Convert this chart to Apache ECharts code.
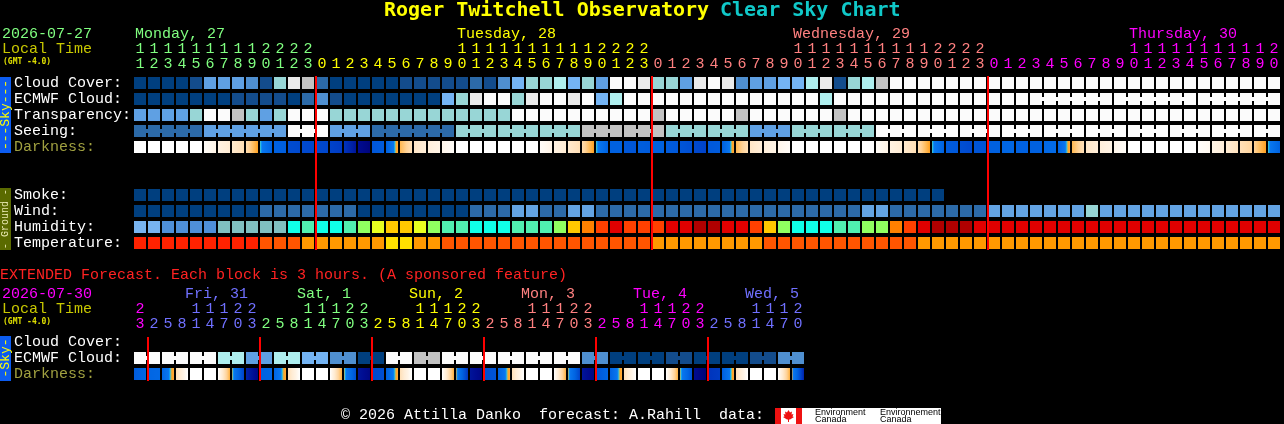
<!DOCTYPE html>
<html>
<head>
<meta charset="utf-8">
<script src="https://cdn.jsdelivr.net/npm/echarts@6.0.0/dist/echarts.min.js"></script>
<style>
html,body{margin:0;padding:0;background:#000;overflow:hidden;}
#chart{width:1284px;height:424px;}
</style>
</head>
<body>
<div id="chart"></div>
<script>
// ======================= DATA =======================
const titleMain = 'Roger Twitchell Observatory';
const titleSub = 'Clear Sky Chart';
const mainDate = '2026-07-27';
const extDate = '2026-07-30';
const localTimeLabel = 'Local Time';
const tzLabel = '(GMT -4.0)';
const extNote = 'EXTENDED Forecast. Each block is 3 hours. (A sponsored feature)';
const footerText = '\u00a9 2026 Attilla Danko  forecast: A.Rahill  data:';

// main forecast, one column per local hour
const hours = [11,12,13,14,15,16,17,18,19,20,21,22,23,
  0,1,2,3,4,5,6,7,8,9,10,11,12,13,14,15,16,17,18,19,20,21,22,23,
  0,1,2,3,4,5,6,7,8,9,10,11,12,13,14,15,16,17,18,19,20,21,22,23,
  0,1,2,3,4,5,6,7,8,9,10,11,12,13,14,15,16,17,18,19,20];
const dayNames = ['Monday, 27','Tuesday, 28','Wednesday, 29','Thursday, 30'];
const mainRows = ['Cloud Cover:','ECMWF Cloud:','Transparency:','Seeing:','Darkness:','','','Smoke:','Wind:','Humidity:','Temperature:'];

// cloud cover, percent
const cloudCover = [0,0,0,0,10,40,40,40,30,10,60,90,80,20,
  0,0,0,0,0,10,10,10,10,10,20,10,30,50,
  60,60,70,50,60,40,100,100,90,
  60,60,40,90,100,90,30,40,40,50,50,70,90,10,60,70,80,
  100,100,100,100,100,100,100,100,100,100,100,100,100,100,100,100,100,100,100,100,100,100,100,100,100,100,100,100];
const ecmwfCloud = [0,0,0,0,0,0,0,10,10,10,10,0,20,30,
  10,0,0,0,0,0,0,0,50,60,90,100,100,60,
  90,100,100,90,100,50,70,100,100,
  100,100,100,100,100,100,100,100,100,100,100,100,70,100,100,100,100,
  100,100,100,100,100,100,100,100,100,100,100,100,100,100,100,100,100,100,100,100,100,100,100,100,100,100,100,100];
// forecast blocks (columns sharing one model step)
const ecmwfBlocks = [1,1,1,1,1,1,1,1,1,1,1,1,1,1,1,1,1,1,1,1,1,1,1,1,1,1,1,1,1,1,1,1,
  1,1,1,1,1,1,1,1,1,1,1,1,1,1,1,1,1,1,1,1,1,1,1,1,1,1,1,1,1,1,1,1,6,6,6];
// transparency: 0 too cloudy, 1 poor, 2 below avg, 3 average, 4 above avg, 5 transparent
const transparency = [3,3,3,3,2,0,0,1,2,3,2,0,0,0,
  2,2,2,2,2,2,2,2,2,2,2,2,2,
  0,0,0,0,0,0,0,0,0,0,
  1,0,0,0,0,0,1,0,0,0,0,0,0,1,
  0,0,0,0,0,0,0,0,0,0,0,0,0,0,0,0,0,0,0,0,0,0,0,0,0,0,0,0,0,0,0];
// seeing: 0 too cloudy, 1 bad .. 5 excellent
const seeing = [4,4,4,4,4, 3,3,3,3,3,3, 0,0,0, 3,3,3, 4,4,4,4,4,4,
  2,2,2,2,2,2,2,2,2, 1,1,1,1,1,1, 2,2,2,2,2,2, 3,3,3, 2,2,2,2,2,2,
  0,0,0,0,0,0,0,0,0,0,0,0,0,0,0,0,0,0,0,0,0,0,0,0,0,0,0,0,0];
const seeingBlocks = [5,6,3,3,6, 3,3,3,3,3,3,3,3,3,3, 3,3,3,3,3,3,3,3,3, 2];
// darkness: limiting magnitude at start / end of each hour
const darkness = [[-4,-4],[-4,-4],[-4,-4],[-4,-4],[-4,-4],
  [-3.7,-3.0],[-2.8,-2.0],[-1.8,-0.9],[-0.7,2.0],[2.1,3.6],[3.6,3.7],[4.3,4.4],[4.4,4.5],[4.4,4.5],
  [4.6,4.8],[5.0,5.8],[6.0,6.3],[4.0,3.8],[3.7,1.6],[1.2,-1.0],[-1.5,-2.2],[-2.4,-3.0],[-3.2,-3.7],
  [-4,-4],[-4,-4],[-4,-4],[-4,-4],[-4,-4],[-4,-4],
  [-3.7,-3.0],[-2.8,-2.0],[-1.8,-0.9],[-0.7,2.0],[2.1,3.6],[3.6,3.6],[3.9,4.0],[3.7,3.8],[3.6,3.6],
  [3.8,3.9],[4.0,4.2],[4.4,4.6],[3.9,3.8],[3.7,1.6],[1.2,-1.0],[-1.5,-2.2],[-2.4,-3.0],[-3.2,-3.7],
  [-4,-4],[-4,-4],[-4,-4],[-4,-4],[-4,-4],[-4,-4],
  [-3.7,-3.0],[-2.8,-2.0],[-1.8,-0.9],[-0.7,2.0],[2.1,3.6],[3.8,3.9],[4.2,4.4],[4.0,4.1],[3.6,3.6],
  [3.4,3.3],[3.6,3.6],[3.6,3.6],[3.2,3.1],[3.6,1.6],[1.2,-1.0],[-1.5,-2.2],[-2.4,-3.0],[-3.2,-3.7],
  [-4,-4],[-4,-4],[-4,-4],[-4,-4],[-4,-4],
  [-3.8,-3.4],[-3.0,-2.3],[-2.0,-1.2],[-1.0,-0.2],[0,2.0],[2.1,3.6]];
// smoke ug/m3 (no data after col 57)
const smoke = [0,0,0,0,0,0,0,0,0,0,0,0,0,0,0,0,0,0,0,0,0,0,0,0,0,0,0,0,0,0,0,0,0,0,0,0,0,0,0,0,0,0,0,0,0,0,0,0,0,0,0,0,0,0,0,0,0,0,
  null,null,null,null,null,null,null,null,null,null,null,null,null,null,null,null,null,null,null,null,null,null,null,null];
// wind mph
const wind = [4,4,4,4,4,4,4,4,4, 8,8,8,8,8,8,8, 4,4,4,4,4,4,4,4, 8,8,8, 13,13, 8,8, 13,13,
  8,8,8,8,8,8,8,8,8,8,8,8,8,8,8,8,8,8,8, 13,13, 8,8,8,8,8,8,8, 13,13,13,13,13,13,13, 18,
  13,13,13,13,13,13,13,13,13,13,13,13,13];
// relative humidity %
const humidity = [50,50, 45,45,45,45, 55,55,55,55,55,
  60,65,60,60,65,70,75,80,80,75, 70,65,65,60,60,60,65,65,65,70, 80,85,90,95,90,90,
  90,95,95,100,100,95,95,90,80,70, 60,60,60,65,65,70,70,85,90,95, 100,100,100,95,
  95,95,95,95,95,95,95,95,95,95,95,95,95,95,95,95,95,95,95,95,95];
// temperature F
const temperature = [88,88,88,88,88,88,88,88,88, 80,80,80, 74,74,74,74,74,74, 66,66, 72,72,
  81,81,81,81,81,81,81,81,81,81,81,81,81,81,81, 74,74,74,74,74,74,74,74,
  79,79,79,79,79,79,79,79,79,79,79,
  73,73,73,73,73,73,73,73,73,73,73,73,73,73,73,73,73,73,73,73,73,73,73,73,73,73];

// extended forecast, one column per 3 hours
const extHours = [23, 2,5,8,11,14,17,20,23, 2,5,8,11,14,17,20,23, 2,5,8,11,14,17,20,23,
  2,5,8,11,14,17,20,23, 2,5,8,11,14,17,20,23, 2,5,8,11,14,17,20];
const extDayNames = ['', 'Fri, 31', 'Sat, 1', 'Sun, 2', 'Mon, 3', 'Tue, 4', 'Wed, 5'];
const extRows = ['Cloud Cover:','ECMWF Cloud:','Darkness:'];
const extEcmwf = [100,100, 100,100, 100,100, 70,70, 40,40, 70,70, 50,50, 30,30, 0,0, 100,100,
  80,80, 100,100, 100,100, 100,100, 100,100, 100,100, 30,30, 0,0, 0,0, 10,10, 0,0, 0,0, 10,10, 30,30];
const extEcmwfBlocks = [2,2,2,2,2,2,2,2,2,2,2,2,2,2,2,2,2,2,2,2,2,2,2,2];
const extDarkness = [[3.8,3.4],[3.4,3.2],[3.4,1.6],[-1.0,-4],[-4,-4],[-4,-4],[-4,1.5],[2.0,4.6],
  [5.5,6.2],[3.6,3.4],[3.4,1.6],[-1.0,-4],[-4,-4],[-4,-4],[-4,1.5],[2.0,4.2],
  [5.8,6.2],[4.4,4.2],[3.6,1.6],[-1.0,-4],[-4,-4],[-4,-4],[-4,1.5],[2.0,5.0],
  [5.8,6.2],[4.2,4.0],[3.6,1.6],[-1.0,-4],[-4,-4],[-4,-4],[-4,1.5],[2.0,4.6],
  [5.8,6.2],[4.0,3.4],[3.6,1.6],[-1.0,-4],[-4,-4],[-4,-4],[-4,1.5],[2.0,4.2],
  [6.0,6.4],[5.0,4.8],[3.8,1.6],[-1.0,-4],[-4,-4],[-4,-4],[-4,1.5],[2.0,5.5]];

// ======================= STYLE =======================
const FF = '"Liberation Mono", "DejaVu Sans Mono", monospace';
const FT = '"DejaVu Sans Mono", monospace';
const font = (s, b, fam) => (b ? 'bold ' : '') + s + 'px ' + (fam || FF);
const dayPalette = ['#80ff80', '#ffff00', '#ff8080', '#ff00ff', '#7070ff'];
const cloudPalette = ['#003f7f','#134c8c','#2c6aa8','#4f8fd0','#5fa0e3','#74b4f4','#98d6d6','#aeeeee','#c2c2c2','#eaeaea','#fbfbfb'];
const skyPalette = ['#fbfbfb','#c2c2c2','#98d6d6','#5fa0e3','#2c6aa8','#003f7f'];
const windSteps = [[5,'#003f7f'],[11,'#2c6aa8'],[16,'#63a3e3'],[28,'#96d4d4'],[45,'#c2c2c2'],[1e9,'#fbfbfb']];
const humSteps = [[44,'#2c6aa8'],[49,'#4f8fd8'],[54,'#78b4f0'],[59,'#80c0c0'],[64,'#10ffe8'],[69,'#50f0b0'],
  [74,'#90ff60'],[79,'#e8ff20'],[84,'#ffc800'],[89,'#ff8000'],[94,'#ff4000'],[99,'#e00000'],[1e9,'#b00000']];
const tempSteps = [[67,'#ffe000'],[76,'#ff9900'],[85,'#ff5500'],[1e9,'#ff2200']];
const smokeSteps = [[1,'#003f7f'],[1e9,'#2c6aa8']];
const darkScale = [[-4,'#ffffff'],[-3.5,'#fffaf3'],[-3,'#fff4e6'],[-2,'#ffecd4'],[-1,'#ffe0b8'],[0,'#ffd398'],
  [1,'#ffbc5c'],[2,'#ffa020'],[2.15,'#10e0ff'],[2.3,'#0a78f0'],[3.5,'#0064e2'],[4.5,'#0046cc'],
  [5.0,'#0034bc'],[5.5,'#0022a8'],[6.0,'#000c90'],[6.5,'#000070']];

const stepColor = steps => v => { for (const s of steps) if (v <= s[0]) return s[1]; return steps[steps.length-1][1]; };
const cloudColor = v => cloudPalette[Math.round(v / 10)];
const skyColor = v => skyPalette[v];
const hex = h => [1,3,5].map(k => parseInt(h.substr(k, 2), 16));
function darkColor(m) {
  const s = darkScale;
  if (m <= s[0][0]) return s[0][1];
  for (let k = 1; k < s.length; k++) {
    if (m <= s[k][0]) {
      const t = (m - s[k-1][0]) / (s[k][0] - s[k-1][0]);
      const a = hex(s[k-1][1]), b = hex(s[k][1]);
      return 'rgb(' + a.map((v, j) => Math.round(v + (b[j] - v) * t)).join(',') + ')';
    }
  }
  return s[s.length-1][1];
}
function darkFill(p) {
  if (p[0] === p[1]) return darkColor(p[0]);
  const stops = [];
  for (let k = 0; k <= 12; k++) { const t = k / 12; stops.push({offset: t, color: darkColor(p[0] + (p[1] - p[0]) * t)}); }
  return new echarts.graphic.LinearGradient(0, 0, 1, 0, stops);
}

// ======================= SERIES BUILDERS =======================
function cellSeries(gi, row, vals, colorOf, blocks) {
  const join = [];
  if (blocks) { let s = 0; blocks.forEach(L => { for (let k = 0; k < L; k++) join[s + k] = k < L - 1; s += L; }); }
  return {
    type: 'custom', xAxisIndex: gi, yAxisIndex: gi, silent: true,
    data: vals.map((v, i) => [i, row]).filter(d => vals[d[0]] !== null),
    renderItem(params, api) {
      const i = api.value(0);
      const c = api.coord([i, api.value(1)]);
      const sz = api.size([1, 1]);
      const w = sz[0] - 2, h = sz[1] - 4;
      const x0 = c[0] - w / 2, y0 = c[1] - h / 2;
      const fill = colorOf(vals[i]);
      const ch = [{type: 'rect', shape: {x: x0, y: y0, width: w, height: h}, style: {fill}}];
      if (join[i]) ch.push({type: 'rect', shape: {x: x0 + w - 0.5, y: c[1] - 2, width: sz[0] - w + 1, height: 4}, style: {fill}});
      return {type: 'group', children: ch};
    }
  };
}
function midnightSeries(gi, hrs, topOff, botOff) {
  const cols = hrs.map((h, i) => i).filter(i => i > 0 && hrs[i] < hrs[i-1]);
  return {
    type: 'custom', xAxisIndex: gi, yAxisIndex: gi, silent: true, z: 5,
    data: cols.map(i => [i, 0]),
    renderItem(params, api) {
      const c = api.coord([api.value(0), 0]);
      const bw = api.size([1, 0])[0];
      const cs = params.coordSys;
      return {type: 'rect', shape: {x: c[0] - bw / 2, y: cs.y + topOff, width: 2, height: cs.height - topOff - botOff}, style: {fill: '#ff0000'}};
    }
  };
}
function txt(x, y, s, fill, align, f) {
  return {type: 'text', x, y, style: {text: s, fill, font: f || font(15), align, verticalAlign: 'middle'}};
}
function labelSeries(gi, hrs, names, dayStart, yDay, yTens, yOnes, dayDx) {
  const dayOf = []; let d = 0;
  hrs.forEach((h, i) => { if (i > 0 && h < hrs[i-1]) d++; dayOf.push(d); });
  const firstCol = {};
  hrs.forEach((h, i) => { if (h >= 10 && firstCol[dayOf[i]] === undefined) firstCol[dayOf[i]] = i; });
  return {
    type: 'custom', xAxisIndex: gi, yAxisIndex: gi, silent: true,
    data: hrs.map((h, i) => [i, 0]),
    renderItem(params, api) {
      const i = api.value(0);
      const x = api.coord([i, 0])[0];
      const col = dayPalette[(dayStart + dayOf[i]) % 5];
      const h = hrs[i];
      const ch = [];
      if (h >= 10) ch.push(txt(x, yTens, String(Math.floor(h / 10)), col, 'center'));
      ch.push(txt(x, yOnes, String(h % 10), col, 'center'));
      if (firstCol[dayOf[i]] === i && names[dayOf[i]]) ch.push(txt(x + dayDx, yDay, names[dayOf[i]], col, 'left'));
      return {type: 'group', children: ch};
    }
  };
}
function yAxisFor(gi, rows) {
  return {
    type: 'category', gridIndex: gi, inverse: true, data: rows,
    axisLine: {show: false}, axisTick: {show: false}, splitLine: {show: false},
    axisLabel: {interval: 0, align: 'left', margin: 119, fontFamily: FF, fontSize: 15, padding: [0, 0, 3, 0],
      color: v => v === 'Darkness:' ? '#a0a040' : '#ffffff'}
  };
}

// ======================= OPTION =======================
const chart = echarts.init(document.getElementById('chart'), null, {renderer: 'canvas'});
const titleLen = (titleMain + ' ' + titleSub).length * 12;
const tx0 = 642 - titleLen / 2;

const option = {
  backgroundColor: '#000000',
  animation: false,
  grid: [
    {left: 133, top: 75, width: hours.length * 14, height: mainRows.length * 16, outerBoundsMode: 'none'},
    {left: 133, top: 334, width: extHours.length * 14, height: extRows.length * 16, outerBoundsMode: 'none'}
  ],
  xAxis: [
    {type: 'category', gridIndex: 0, data: hours.map((h, i) => String(i)), show: false},
    {type: 'category', gridIndex: 1, data: extHours.map((h, i) => String(i)), show: false}
  ],
  yAxis: [yAxisFor(0, mainRows), yAxisFor(1, extRows)],
  graphic: {elements: [
    txt(tx0, 11, titleMain, '#ffff00', 'left', font(20, true, FT)),
    txt(tx0 + (titleMain.length + 1) * 12, 11, titleSub, '#10c8c8', 'left', font(20, true, FT)),
    txt(2, 34.5, mainDate, dayPalette[0], 'left'),
    txt(2, 49.5, localTimeLabel, '#c8c800', 'left'),
    txt(3, 61.5, tzLabel, '#e0e000', 'left', font(8, true, FT)),
    {type: 'rect', shape: {x: 0, y: 77, width: 11, height: 76}, style: {fill: '#0c5cf0'}},
    {type: 'text', x: 5.5, y: 115, rotation: Math.PI / 2, style: {text: '---Sky---', fill: '#ffff00', font: font(13), align: 'center', verticalAlign: 'middle'}},
    {type: 'rect', shape: {x: 0, y: 188, width: 11, height: 62}, style: {fill: '#5a6a00'}},
    {type: 'text', x: 5.5, y: 219, rotation: Math.PI / 2, style: {text: '- Ground -', fill: '#e8e8b0', font: font(10), align: 'center', verticalAlign: 'middle'}},
    txt(0, 275.5, extNote, '#ff2222', 'left'),
    txt(2, 294.5, extDate, dayPalette[3], 'left'),
    txt(2, 309.5, localTimeLabel, '#c8c800', 'left'),
    txt(3, 321.5, tzLabel, '#e0e000', 'left', font(8, true, FT)),
    {type: 'rect', shape: {x: 0, y: 336, width: 11, height: 45}, style: {fill: '#0c5cf0'}},
    {type: 'text', x: 5.5, y: 358, rotation: Math.PI / 2, style: {text: '-Sky-', fill: '#ffff00', font: font(13), align: 'center', verticalAlign: 'middle'}},
    txt(341, 415, footerText, '#ffffff', 'left'),
    {type: 'group', children: [
      {type: 'rect', shape: {x: 775, y: 408, width: 166, height: 16}, style: {fill: '#ffffff'}},
      {type: 'rect', shape: {x: 775, y: 408, width: 6, height: 16}, style: {fill: '#ee1111'}},
      {type: 'rect', shape: {x: 796, y: 408, width: 6, height: 16}, style: {fill: '#ee1111'}},
      {type: 'polygon', shape: {points: [[788.5,410],[790,412.5],[792,411.5],[791.5,414.5],[793.5,414],[792.5,416.5],[794,417],[790,419.5],[789,419.5],[789,422],[788,422],[788,419.5],[787,419.5],[783,417],[784.5,416.5],[783.5,414],[785.5,414.5],[785,411.5],[787,412.5]]}, style: {fill: '#ee1111'}},
      {type: 'text', x: 815, y: 413, style: {text: 'Environment', fill: '#000', font: '9px "Liberation Sans", sans-serif', align: 'left', verticalAlign: 'middle'}},
      {type: 'text', x: 815, y: 420, style: {text: 'Canada', fill: '#000', font: '9px "Liberation Sans", sans-serif', align: 'left', verticalAlign: 'middle'}},
      {type: 'text', x: 880, y: 413, style: {text: 'Environnement', fill: '#000', font: '9px "Liberation Sans", sans-serif', align: 'left', verticalAlign: 'middle'}},
      {type: 'text', x: 880, y: 420, style: {text: 'Canada', fill: '#000', font: '9px "Liberation Sans", sans-serif', align: 'left', verticalAlign: 'middle'}}
    ]}
  ]},
  series: [
    cellSeries(0, 0, cloudCover, cloudColor),
    cellSeries(0, 1, ecmwfCloud, cloudColor, ecmwfBlocks),
    cellSeries(0, 2, transparency, skyColor),
    cellSeries(0, 3, seeing, skyColor, seeingBlocks),
    cellSeries(0, 4, darkness, darkFill),
    cellSeries(0, 7, smoke, stepColor(smokeSteps)),
    cellSeries(0, 8, wind, stepColor(windSteps)),
    cellSeries(0, 9, humidity, stepColor(humSteps)),
    cellSeries(0, 10, temperature, stepColor(tempSteps)),
    midnightSeries(0, hours, 1, 1),
    labelSeries(0, hours, dayNames, 0, 34.5, 49.5, 64.5, -5),
    cellSeries(1, 1, extEcmwf, cloudColor, extEcmwfBlocks),
    cellSeries(1, 2, extDarkness, darkFill),
    midnightSeries(1, extHours, 3, 1),
    labelSeries(1, extHours, extDayNames, 3, 294.5, 309.5, 324.5, -11)
  ]
};
chart.setOption(option);
</script>
</body>
</html>
